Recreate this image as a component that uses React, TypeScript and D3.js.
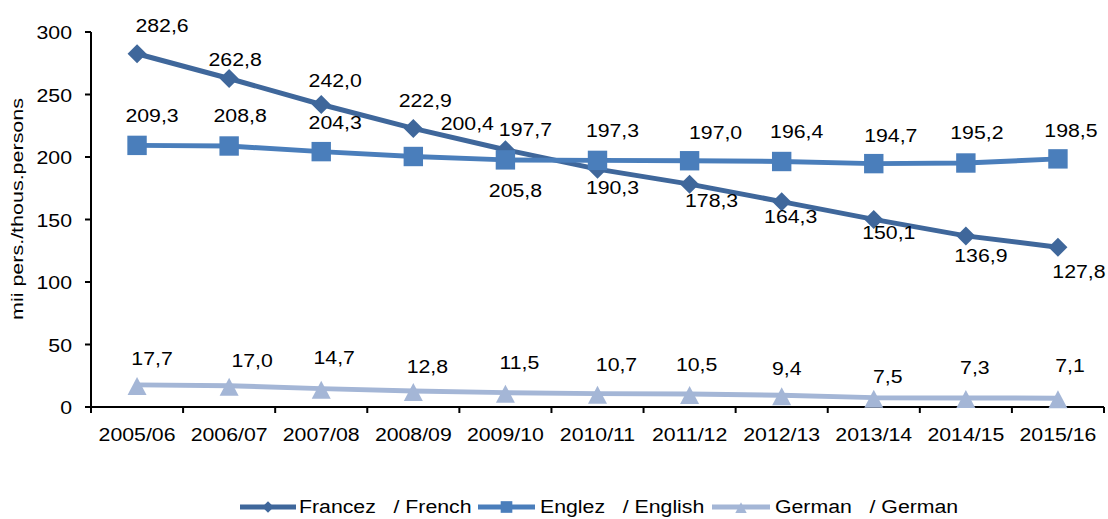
import React from "react";
import * as d3 from "d3";

const categories = ["2005/06","2006/07","2007/08","2008/09","2009/10","2010/11","2011/12","2012/13","2013/14","2014/15","2015/16"];
const french = [282.6, 262.8, 242.0, 222.9, 205.8, 190.3, 178.3, 164.3, 150.1, 136.9, 127.8];
const english = [209.3, 208.8, 204.3, 200.4, 197.7, 197.3, 197.0, 196.4, 194.7, 195.2, 198.5];
const german = [17.7, 17.0, 14.7, 12.8, 11.5, 10.7, 10.5, 9.4, 7.5, 7.3, 7.1];
const yTicks = [0, 50, 100, 150, 200, 250, 300];
const seriesNames = ["Francez   / French", "Englez   / English", "German   / German"];

// label placement offsets (layout only)
const frenchLabelOffsets = [[25,-29],[6,-20],[14,-25],[12,-28],[10,40],[15,18],[22,16],[9,14],[15,13],[15,19],[21,24]];
const englishLabelOffsets = [[15,-30],[11,-31],[14,-30],[54,-34],[20,-31],[15,-30],[26,-29],[15,-31],[17,-29],[11,-31],[13,-29]];
const germanLabelOffsets = [[15,-27],[23,-26],[13,-32],[14,-25],[14,-31],[19,-30],[7,-30],[5,-27],[14,-22],[9,-31],[12,-33]];

const FONT = "'Liberation Sans', Arial, sans-serif";
const SX = 1.12;

const fmt = (v: number) => v.toFixed(1).replace(".", ",");

function Txt({ x, y, anchor = "middle", children, size = 19 }: any) {
  return (
    <text
      transform={`translate(${x},${y}) scale(${SX},1)`}
      textAnchor={anchor}
      fontFamily={FONT}
      fontSize={size}
      fill="#000"
      style={{ whiteSpace: "pre" }}
    >
      {children}
    </text>
  );
}

function marker(type: string, x: number, y: number, color: string, s = 1, key?: any) {
  if (type === "diamond") {
    const w = 9.5 * s, h = 9.5 * s;
    return <path key={key} d={`M${x},${y - h}L${x + w},${y}L${x},${y + h}L${x - w},${y}Z`} fill={color} />;
  }
  if (type === "square") {
    const a = 9.7 * s;
    return <rect key={key} x={x - a} y={y - a} width={2 * a} height={2 * a} fill={color} />;
  }
  const w = 9.5 * s;
  return <path key={key} d={`M${x},${y - 8 * s}L${x + w},${y + 10 * s}L${x - w},${y + 10 * s}Z`} fill={color} />;
}

export default function App() {
  const W = 1108, H = 519;
  const x = d3.scaleBand<string>().domain(categories).range([91, 1104]).padding(0);
  const y = d3.scaleLinear().domain([0, 300]).range([407, 32]);
  const cx = (c: string) => (x(c) as number) + x.bandwidth() / 2;

  const series = [
    { name: seriesNames[0], values: french, color: "#3F679B", marker: "diamond", offs: frenchLabelOffsets },
    { name: seriesNames[1], values: english, color: "#4A7EBB", marker: "square", offs: englishLabelOffsets },
    { name: seriesNames[2], values: german, color: "#A4B6D6", marker: "triangle", offs: germanLabelOffsets },
  ];

  const line = d3.line<number>().x((_, i) => cx(categories[i])).y((v) => y(v));

  const legendItems = [
    { x0: 240, x1: 296, tx: 299 },
    { x0: 478, x1: 535, tx: 540 },
    { x0: 712, x1: 770, tx: 775 },
  ];

  return (
    <svg width={W} height={H} style={{ position: "absolute", left: 0, top: 0, background: "#fff" }}>
      <rect width={W} height={H} fill="#fff" />
      {/* y axis */}
      <line x1={91} x2={91} y1={32} y2={407} stroke="#000" strokeWidth={2} />
      {yTicks.map((t) => (
        <g key={t}>
          <line x1={85} x2={91} y1={y(t)} y2={y(t)} stroke="#000" strokeWidth={2} />
          <Txt x={72} y={y(t) + 7} anchor="end">{String(t)}</Txt>
        </g>
      ))}
      {/* x axis */}
      <line x1={85} x2={1104} y1={407} y2={407} stroke="#000" strokeWidth={2} />
      {categories.map((c, i) => (
        <g key={c}>
          <line x1={(x(c) as number) + x.bandwidth()} x2={(x(c) as number) + x.bandwidth()} y1={407} y2={413} stroke="#000" strokeWidth={2} />
          {i === 0 && <line x1={91} x2={91} y1={407} y2={413} stroke="#000" strokeWidth={2} />}
          <Txt x={cx(c)} y={441}>{c}</Txt>
        </g>
      ))}
      {/* y title */}
      <text
        transform={`translate(23,209) rotate(-90)`}
        textAnchor="middle"
        fontFamily={FONT}
        fontSize={16.5}
        textLength={222}
        lengthAdjust="spacingAndGlyphs"
      >
        mii pers./thous.persons
      </text>
      {/* series */}
      {series.map((s) => (
        <g key={s.name}>
          <path d={line(s.values) as string} fill="none" stroke={s.color} strokeWidth={5} strokeLinejoin="round" />
          {s.values.map((v, i) => marker(s.marker, cx(categories[i]), y(v), s.color, 1, i))}
        </g>
      ))}
      {series.map((s) =>
        s.values.map((v, i) => (
          <Txt key={s.name + i} x={cx(categories[i]) + s.offs[i][0]} y={y(v) + s.offs[i][1] + 7}>
            {fmt(v)}
          </Txt>
        ))
      )}
      {/* legend */}
      {series.map((s, i) => {
        const L = legendItems[i];
        const ly = 507;
        return (
          <g key={"leg" + i}>
            <line x1={L.x0} x2={L.x1} y1={ly} y2={ly} stroke={s.color} strokeWidth={5} />
            {marker(s.marker, (L.x0 + L.x1) / 2, ly, s.color, 0.6)}
            <Txt x={L.tx} y={513} anchor="start">{s.name}</Txt>
          </g>
        );
      })}
    </svg>
  );
}
